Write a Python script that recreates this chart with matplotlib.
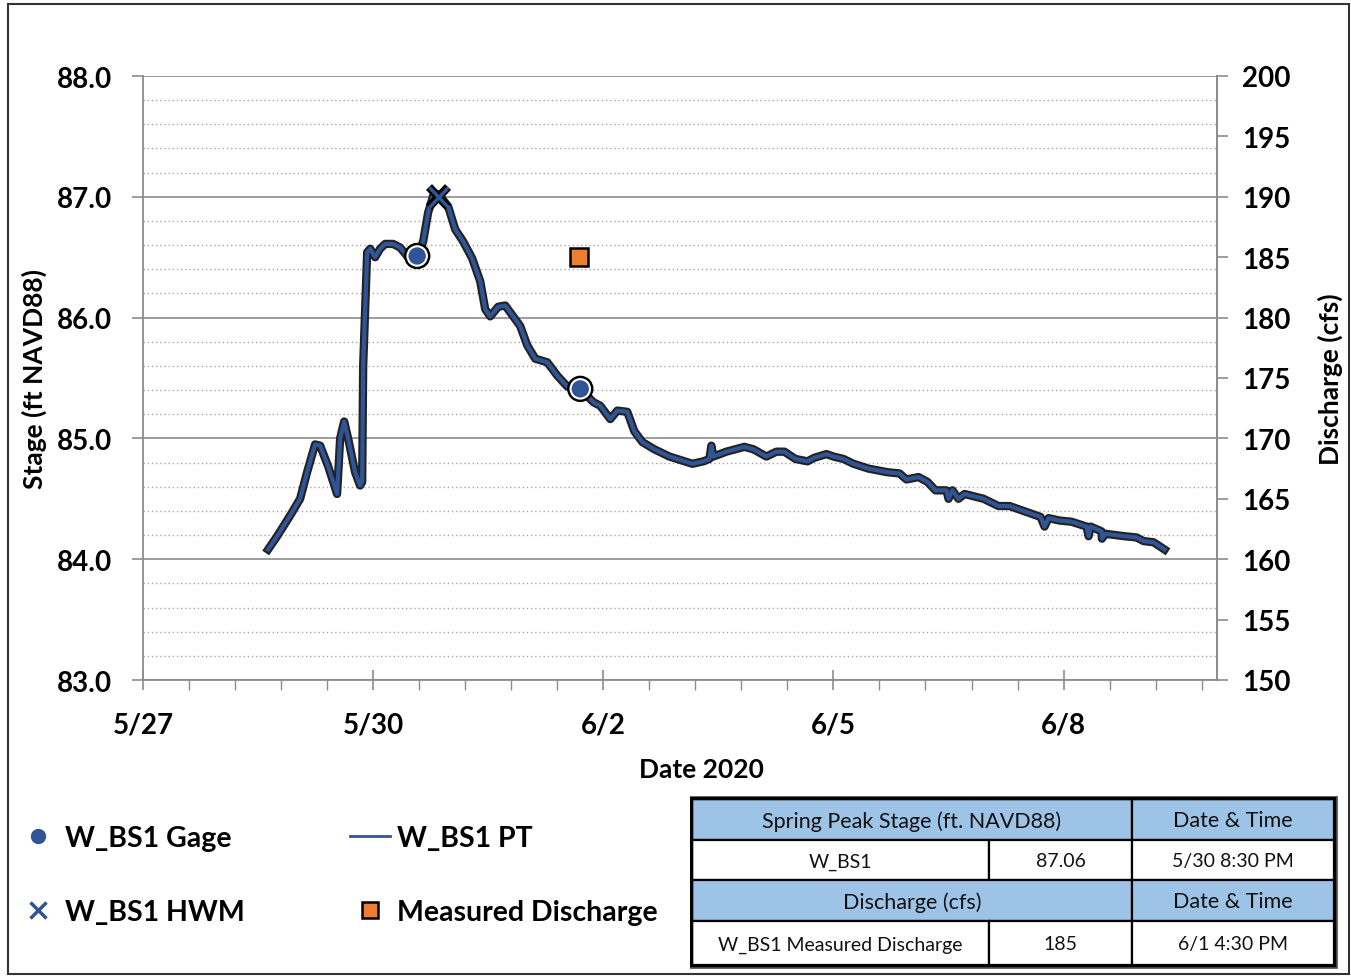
import matplotlib
matplotlib.use("Agg")
import matplotlib.pyplot as plt
import matplotlib.patheffects as pe
from matplotlib.lines import Line2D
from matplotlib.patches import Rectangle
from matplotlib.ticker import MultipleLocator, FixedLocator

# ---------------- data ----------------
# days after 5/27/2020 00:00
pt_days = [1.630, 1.748, 1.917, 2.048, 2.139, 2.243, 2.309, 2.413, 2.530, 2.570, 2.622, 2.674,
           2.765, 2.830, 2.857, 2.870, 2.922, 2.961, 3.026, 3.091, 3.157, 3.261, 3.352, 3.443,
           3.574, 3.652, 3.717, 3.783, 3.854, 3.978, 4.070, 4.174, 4.291, 4.396, 4.461, 4.526,
           4.630, 4.722, 4.826, 4.917, 5.009, 5.113, 5.270, 5.400, 5.530, 5.700, 5.870, 5.961,
           6.091, 6.183, 6.313, 6.404, 6.509, 6.665, 6.861, 7.161, 7.304, 7.383, 7.409, 7.435,
           7.604, 7.839, 7.957, 8.126, 8.257, 8.361, 8.504, 8.661, 8.752, 8.909, 9.000, 9.130,
           9.261, 9.457, 9.704, 9.861, 9.952, 10.109, 10.226, 10.330, 10.474, 10.500, 10.552,
           10.630, 10.709, 10.957, 11.152, 11.296, 11.700, 11.752, 11.804, 11.948, 12.104,
           12.300, 12.326, 12.352, 12.496, 12.500, 12.548, 12.796, 12.952, 13.043, 13.174, 13.317]
pt_stage = [84.08, 84.19, 84.36, 84.50, 84.72, 84.95, 84.94, 84.77, 84.54, 85.00, 85.14, 85.00,
            84.72, 84.61, 84.64, 85.60, 86.54, 86.57, 86.50, 86.57, 86.61, 86.61, 86.58, 86.51,
            86.51, 86.63, 86.87, 87.01, 87.02, 86.92, 86.73, 86.63, 86.49, 86.30, 86.07, 86.01,
            86.09, 86.10, 86.01, 85.93, 85.77, 85.66, 85.63, 85.52, 85.43, 85.41, 85.30, 85.27,
            85.16, 85.23, 85.22, 85.06, 84.97, 84.91, 84.85, 84.79, 84.81, 84.83, 84.94, 84.85,
            84.89, 84.93, 84.91, 84.85, 84.89, 84.89, 84.83, 84.81, 84.84, 84.87, 84.85, 84.83,
            84.79, 84.75, 84.72, 84.71, 84.66, 84.68, 84.64, 84.57, 84.57, 84.50, 84.57,
            84.50, 84.54, 84.50, 84.44, 84.44, 84.35, 84.27, 84.34, 84.32, 84.31,
            84.27, 84.19, 84.27, 84.23, 84.17, 84.21, 84.19, 84.18, 84.15, 84.14, 84.08]

gage_days = [3.574, 5.700]
gage_stage = [86.51, 85.41]

hwm_days = [3.854]
hwm_stage = [87.00]

q_days = [5.6875]
q_cfs = [185]

xtick_pos = [0, 3, 6, 9, 12]
xtick_labels = ["5/27", "5/30", "6/2", "6/5", "6/8"]

table_rows = [
    ["Spring Peak Stage (ft. NAVD88)", "", "Date & Time"],
    ["W_BS1", "87.06", "5/30 8:30 PM"],
    ["Discharge (cfs)", "", "Date & Time"],
    ["W_BS1 Measured Discharge", "185", "6/1 4:30 PM"],
]

# ---------------- style ----------------
BLUE = "#2F5597"
ORANGE = "#ED7D31"
HEAD = "#9DC3E6"
GRID = "#8C8C8C"
FONT = "Lato"

W, H = 1351, 978
fig = plt.figure(figsize=(W / 100, H / 100), dpi=100)
fig.patch.set_facecolor("white")

def fx(px):
    return px / W

def fy(py):
    return 1 - py / H

ax = fig.add_axes([fx(143), fy(681), fx(1217) - fx(143), fy(77) - fy(681)])
ax.set_xlim(0, 14)
ax.set_ylim(83, 88)

# grid
ax.yaxis.set_major_locator(MultipleLocator(1.0))
ax.yaxis.set_minor_locator(MultipleLocator(0.2))
ax.grid(which="major", axis="y", color=GRID, lw=1.2, ls="-")
ax.grid(which="minor", axis="y", color="#A6A6A6", lw=1.0, ls=(0, (1, 2)))
ax.set_axisbelow(True)

ax.spines["top"].set_visible(False)
for s in ["left", "bottom", "right"]:
    ax.spines[s].set_color(GRID)
    ax.spines[s].set_linewidth(1.3)

ax.xaxis.set_major_locator(FixedLocator(xtick_pos))
ax.set_xticklabels(xtick_labels)
ax.xaxis.set_minor_locator(MultipleLocator(0.6))
ax.tick_params(axis="x", which="major", direction="inout", length=14, width=1.2, color=GRID, pad=16)
ax.tick_params(axis="x", which="minor", direction="out", length=7, width=1.0, color=GRID)
ax.tick_params(axis="y", which="major", direction="out", length=8, width=1.2, color=GRID, pad=14)
ax.tick_params(axis="y", which="minor", length=0)
ax.yaxis.set_major_formatter(plt.FuncFormatter(lambda v, p: f"{v:.1f}"))
for lab in ax.get_xticklabels() + ax.get_yticklabels():
    lab.set_fontfamily(FONT)
    lab.set_fontweight("bold")
    lab.set_fontsize(20)

ax.set_ylabel("Stage (ft NAVD88)", fontfamily=FONT, fontweight="bold", fontsize=19)
ax.yaxis.set_label_coords(-0.089, 0.5)
ax.set_xlabel("Date 2020", fontfamily=FONT, fontweight="bold", fontsize=19)
ax.xaxis.set_label_coords((701 - 143) / (1217 - 143), -(770 - 681) / (681 - 77))
ax.xaxis.label.set_va("center")

# PT line
ax.plot(pt_days, pt_stage, color=BLUE, lw=3.0, zorder=3, solid_joinstyle="round",
        path_effects=[pe.Stroke(linewidth=6, foreground="#222222"), pe.Normal()])

# Gage dots
ax.plot(gage_days, gage_stage, ls="none", marker="o", ms=14, mfc=BLUE, mec="white", mew=1.5, zorder=5,
        path_effects=[pe.Stroke(linewidth=5, foreground="black"), pe.Normal()])

# HWM
ax.plot(hwm_days, hwm_stage, ls="none", marker="x", ms=14, mec=BLUE, mew=2.5, zorder=6,
        path_effects=[pe.Stroke(linewidth=6, foreground="black"), pe.Normal()])

# right axis
ax2 = ax.twinx()
ax2.set_ylim(150, 200)
ax2.yaxis.set_major_locator(MultipleLocator(5))
for s in ["top", "left", "bottom"]:
    ax2.spines[s].set_visible(False)
ax2.spines["right"].set_color(GRID)
ax2.spines["right"].set_linewidth(1.3)
ax2.tick_params(axis="y", direction="out", length=8, width=1.2, color=GRID, pad=10)
for lab in ax2.get_yticklabels():
    lab.set_fontfamily(FONT)
    lab.set_fontweight("bold")
    lab.set_fontsize(20)
ax2.set_ylabel("Discharge (cfs)", fontfamily=FONT, fontweight="bold", fontsize=19)
ax2.yaxis.set_label_coords((1318 - 143) / (1217 - 143), 0.5)
ax2.plot(q_days, q_cfs, ls="none", marker="s", ms=13, mfc=ORANGE, mec="black", mew=1.8, zorder=5)

# legend
handles = [
    Line2D([], [], ls="none", marker="o", ms=10, mfc=BLUE, mec=BLUE),
    Line2D([], [], ls="none", marker="x", ms=11, mec=BLUE, mew=2.5),
    Line2D([], [], color=BLUE, lw=2),
    Line2D([], [], ls="none", marker="s", ms=12, mfc=ORANGE, mec="black", mew=1.8),
]
labels = ["W_BS1 Gage", "W_BS1 HWM", "W_BS1 PT", "Measured Discharge"]
leg = fig.legend(handles, labels, loc="upper left", bbox_to_anchor=(fx(-8), fy(800)), ncol=2,
                 frameon=False, prop={"family": FONT, "weight": "bold", "size": 20.5},
                 handlelength=1.4, handletextpad=0.25, columnspacing=3.7, labelspacing=1.7)

# table
tax = fig.add_axes([fx(690), fy(970), fx(1338) - fx(690), fy(797) - fy(970)])
tax.set_xlim(690, 1338)
tax.set_ylim(970, 797)
tax.axis("off")
col_x = [692, 989, 1132, 1334]
row_y = [800, 841, 881, 922, 966]
for r, row in enumerate(table_rows):
    header = r % 2 == 0
    y0, y1 = row_y[r], row_y[r + 1]
    if header:
        cells = [(col_x[0], col_x[2], row[0]), (col_x[2], col_x[3], row[2])]
    else:
        cells = [(col_x[0], col_x[1], row[0]), (col_x[1], col_x[2], row[1]), (col_x[2], col_x[3], row[2])]
    for (a, b, txt) in cells:
        tax.add_patch(Rectangle((a, y0), b - a, y1 - y0, facecolor=HEAD if header else "white",
                                edgecolor="black", lw=1.6))
        tax.text((a + b) / 2, (y0 + y1) / 2 + 1, txt, ha="center", va="center",
                 fontfamily=FONT, fontsize=15.5 if header else 14, color="#111111")
tax.add_patch(Rectangle((col_x[0] - 1, row_y[0] - 1), col_x[3] - col_x[0] + 2, row_y[-1] - row_y[0] + 2,
                        facecolor="none", edgecolor="black", lw=2.5))
tax.add_patch(Rectangle((col_x[0] - 3, row_y[0] - 3), col_x[3] - col_x[0] + 6, row_y[-1] - row_y[0] + 6,
                        facecolor="none", edgecolor="#555555", lw=1.2))

# outer figure border
fig.add_artist(Rectangle((fx(8), fy(975)), fx(1349) - fx(8), fy(5) - fy(975), transform=fig.transFigure,
                         facecolor="none", edgecolor="#333333", lw=1.5))

fig.savefig("out.png", dpi=100, facecolor="white")
